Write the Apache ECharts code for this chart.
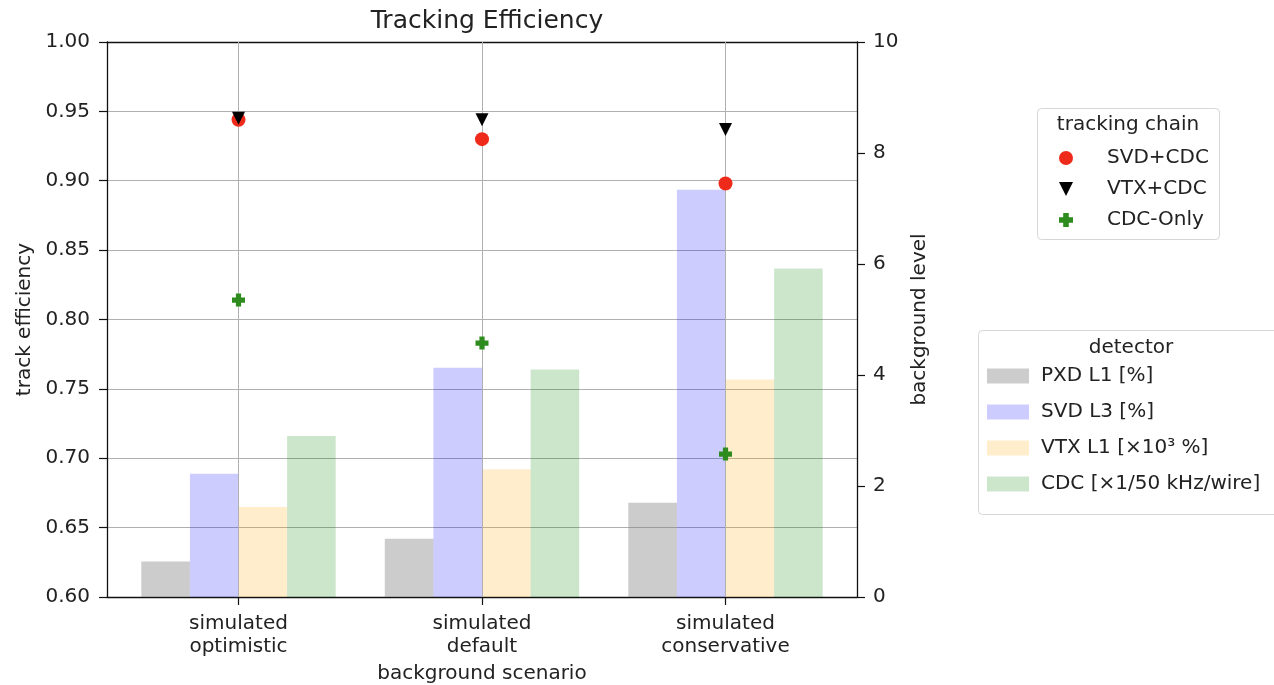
<!DOCTYPE html>
<html>
<head>
<meta charset="utf-8">
<script src="https://cdn.jsdelivr.net/npm/echarts@6/dist/echarts.min.js"></script>
<style>
html,body{margin:0;padding:0;background:#fff;}
#chart{width:1274px;height:685px;}
</style>
</head>
<body>
<div id="chart"></div>
<script>
// ---- data ----
const scenarios = ['simulated\noptimistic', 'simulated\ndefault', 'simulated\nconservative'];
const scenarioPos = [0, 1, 2];
// background levels (right axis)
const pxdL1 = [0.64, 1.05, 1.70];
const svdL3 = [2.22, 4.13, 7.34];
const vtxL1 = [1.62, 2.30, 3.92];
const cdcBg = [2.90, 4.10, 5.92];
// track efficiencies (left axis)
const effSvdCdc = [0.944, 0.930, 0.898];
const effVtxCdc = [0.945, 0.944, 0.937];
const effCdcOnly = [0.814, 0.783, 0.703];
const leftTicks = [0.60, 0.65, 0.70, 0.75, 0.80, 0.85, 0.90, 0.95, 1.00];
const rightTicks = [0, 2, 4, 6, 8, 10];

const FONT = 'DejaVu Sans';
const FS = 20;
const pair = (xs, ys) => xs.map((x, i) => [x, ys[i]]);

const chart = echarts.init(document.getElementById('chart'), null, {renderer: 'canvas'});

const plusPath = 'path://M3,0 L7,0 L7,3 L10,3 L10,7 L7,7 L7,10 L3,10 L3,7 L0,7 L0,3 L3,3 Z';
const downTri = 'path://M0,0 L10,0 L5,10 Z';

const barCommon = {type: 'bar', xAxisIndex: 0, yAxisIndex: 1, barWidth: 48.6, barGap: '0%', z: 2};
const axisLineStyle = {color: '#111', width: 1.3};

const option = {
  backgroundColor: '#ffffff',
  animation: false,
  textStyle: {fontFamily: FONT},
  title: {
    text: 'Tracking Efficiency',
    left: 482, top: 4, textAlign: 'center',
    textStyle: {fontFamily: FONT, fontSize: 25, fontWeight: 'normal', color: '#222'}
  },
  grid: {left: 107, right: 417, top: 42, bottom: 88, containLabel: false, outerBoundsMode: 'none'},
  xAxis: [{
    type: 'value', min: -0.54, max: 2.54,
    name: 'background scenario', nameLocation: 'middle', nameGap: 67,
    nameTextStyle: {fontFamily: FONT, fontSize: FS, color: '#222'},
    axisLine: {show: true, onZero: false, lineStyle: axisLineStyle},
    axisTick: {show: true, length: 8, lineStyle: {color: '#111', width: 1.2}, customValues: scenarioPos},
    axisLabel: {
      customValues: scenarioPos,
      formatter: v => { const i = scenarioPos.indexOf(Math.round(v)); return i >= 0 ? scenarios[i] : ''; },
      fontFamily: FONT, fontSize: FS, color: '#222', lineHeight: 23.5, margin: 15
    },
    splitLine: {show: false}
  }, {
    type: 'value', min: -0.54, max: 2.54, position: 'top',
    axisLine: {show: true, onZero: false, lineStyle: axisLineStyle},
    axisTick: {show: false}, axisLabel: {show: false}, splitLine: {show: false}
  }],
  yAxis: [{
    type: 'value', min: 0.6, max: 1.0, interval: 0.05, position: 'left',
    name: 'track efficiency', nameLocation: 'middle', nameGap: 72, nameRotate: 90,
    nameTextStyle: {fontFamily: FONT, fontSize: FS, color: '#222'},
    axisLine: {show: true, onZero: false, lineStyle: axisLineStyle},
    axisTick: {show: true, length: 8, lineStyle: {color: '#111', width: 1.2}},
    axisLabel: {formatter: v => v.toFixed(2), fontFamily: FONT, fontSize: FS, color: '#222', margin: 17},
    splitLine: {show: true, lineStyle: {color: '#b0b0b0', width: 1}}
  }, {
    type: 'value', min: 0, max: 10, interval: 2, position: 'right',
    name: 'background level', nameLocation: 'middle', nameGap: 45, nameRotate: 90,
    nameTextStyle: {fontFamily: FONT, fontSize: FS, color: '#222'},
    axisLine: {show: true, onZero: false, lineStyle: axisLineStyle},
    axisTick: {show: true, length: 8, lineStyle: {color: '#111', width: 1.2}},
    axisLabel: {fontFamily: FONT, fontSize: FS, color: '#222', margin: 16},
    splitLine: {show: false}
  }],
  legend: [{
    orient: 'vertical', left: 1054, top: 143, itemGap: 11,
    itemWidth: 26, itemHeight: 14,
    data: [
      {name: 'SVD+CDC', icon: 'circle'},
      {name: 'VTX+CDC', icon: downTri},
      {name: 'CDC-Only', icon: plusPath}
    ],
    textStyle: {fontFamily: FONT, fontSize: FS, color: '#222', padding: [0, 0, 0, 23]}
  }, {
    orient: 'vertical', left: 982, top: 361, itemGap: 16,
    itemWidth: 42, itemHeight: 15,
    data: ['PXD L1 [%]', 'SVD L3 [%]', 'VTX L1 [×10³ %]', 'CDC [×1/50 kHz/wire]'],
    icon: 'rect',
    textStyle: {fontFamily: FONT, fontSize: FS, color: '#222', padding: [0, 0, 0, 7]}
  }],
  graphic: [
    {type: 'rect', shape: {x: 1037.5, y: 108.5, width: 182, height: 131, r: 4},
     style: {fill: 'rgba(255,255,255,0.8)', stroke: '#d6d6d6', lineWidth: 1}, z: 0},
    {type: 'text', style: {x: 1128, y: 125, text: 'tracking chain', textAlign: 'center', textVerticalAlign: 'middle',
      font: FS + 'px "DejaVu Sans"', fill: '#222'}},
    {type: 'rect', shape: {x: 978.5, y: 330.5, width: 310, height: 184, r: 4},
     style: {fill: 'rgba(255,255,255,0.8)', stroke: '#d6d6d6', lineWidth: 1}, z: 0},
    {type: 'text', style: {x: 1131, y: 348, text: 'detector', textAlign: 'center', textVerticalAlign: 'middle',
      font: FS + 'px "DejaVu Sans"', fill: '#222'}}
  ],
  series: [
    {type: 'line', data: [], xAxisIndex: 0, yAxisIndex: 0, z: 1, silent: true,
     markLine: {silent: true, symbol: 'none', label: {show: false},
       lineStyle: {color: '#b0b0b0', width: 1, type: 'solid'},
       data: scenarioPos.map(p => ({xAxis: p}))}},
    Object.assign({name: 'PXD L1 [%]', data: pair(scenarioPos, pxdL1), itemStyle: {color: 'rgba(128,128,128,0.4)'}}, barCommon),
    Object.assign({name: 'SVD L3 [%]', data: pair(scenarioPos, svdL3), itemStyle: {color: 'rgba(0,0,255,0.2)'}}, barCommon),
    Object.assign({name: 'VTX L1 [×10³ %]', data: pair(scenarioPos, vtxL1), itemStyle: {color: 'rgba(255,165,0,0.2)'}}, barCommon),
    Object.assign({name: 'CDC [×1/50 kHz/wire]', data: pair(scenarioPos, cdcBg), itemStyle: {color: 'rgba(0,128,0,0.2)'}}, barCommon),
    {name: 'SVD+CDC', type: 'scatter', xAxisIndex: 0, yAxisIndex: 0, z: 5,
     data: pair(scenarioPos, effSvdCdc), symbol: 'circle', symbolSize: 14,
     itemStyle: {color: '#ee2a1b', opacity: 1}},
    {name: 'VTX+CDC', type: 'scatter', xAxisIndex: 0, yAxisIndex: 0, z: 6,
     data: pair(scenarioPos, effVtxCdc), symbol: downTri, symbolSize: [13, 13],
     itemStyle: {color: '#000000', opacity: 1}},
    {name: 'CDC-Only', type: 'scatter', xAxisIndex: 0, yAxisIndex: 0, z: 7,
     data: pair(scenarioPos, effCdcOnly), symbol: plusPath, symbolSize: [13, 13],
     itemStyle: {color: '#2e8b1e', opacity: 1}}
  ]
};
chart.setOption(option);
</script>
</body>
</html>
